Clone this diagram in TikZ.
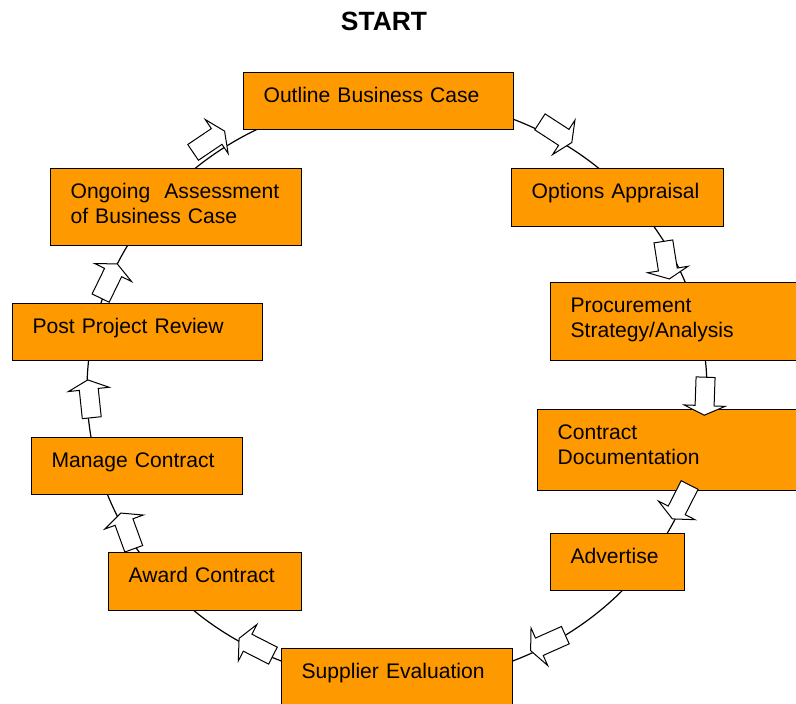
\documentclass[tikz,border=0pt]{standalone}
\usepackage{fontspec}
\setmainfont{Liberation Sans}
\usepackage{tikz}
\usetikzlibrary{shapes.arrows}
\definecolor{stageorange}{HTML}{FF9900}
\newcommand{\stagefont}{\fontsize{21.1}{24.5}\selectfont}

\begin{document}
\begin{tikzpicture}[x=1pt,y=-1pt,
  stage/.style={draw,line width=1.2pt,fill=stageorange,anchor=north west,align=left,
    inner xsep=20pt,inner ysep=0pt,text height=30pt,font=\stagefont},
  flow/.style={single arrow,draw,line width=1pt,fill=white,inner xsep=0pt,inner ysep=9pt,
    minimum height=38pt,single arrow head extend=11pt,single arrow tip angle=130}]
\useasboundingbox (0,0) rectangle (796,704);
\node[font=\fontsize{26.4}{30}\selectfont\bfseries] (start) at (384,21) {START};
% the cycle
\draw[line width=1.2pt] (397,390) ellipse [x radius=310, y radius=292];
% stages
\node[stage,text width=230pt,text depth=27pt] (obc) at (243,72) {Outline Business Case};
\node[stage,text width=172pt,text depth=28pt] (opt) at (511,168) {Options Appraisal};
\node[stage,text width=210pt,text depth=48pt] (psa) at (550,282) {Procurement\\Strategy/Analysis};
\node[stage,text width=223pt,text depth=51pt] (cdoc) at (537,409) {Contract\\Documentation};
\node[stage,text width=94pt,text depth=27pt] (adv) at (550,533) {Advertise};
\node[stage,text width=191pt,text depth=32pt] (sev) at (281,648) {Supplier~Evaluation};
\node[stage,text width=153pt,text depth=28pt] (awc) at (108,552) {Award~Contract};
\node[stage,text width=171pt,text depth=27pt] (mgc) at (31,437) {Manage~Contract};
\node[stage,text width=210pt,text depth=27pt] (ppr) at (12,303) {Post Project Review};
\node[stage,text width=211pt,text depth=47pt] (oabc) at (50,168) {Ongoing~~\mbox{Assessment}\\of Business Case};
% block arrows
\node[flow,rotate=34] (f1) at (207,143) {};
\node[flow,rotate=-33] (f2) at (554,131) {};
\node[flow,rotate=-81] (f3) at (666,258) {};
\node[flow,rotate=-92] (f4) at (705,394) {};
\node[flow,rotate=-117] (f5) at (682,500) {};
\node[flow,rotate=-156] (f6) at (550,642) {};
\node[flow,rotate=153] (f7) at (258,648) {};
\node[flow,rotate=110] (f8) at (128,533) {};
\node[flow,rotate=96] (f9) at (90,401) {};
\node[flow,rotate=64] (f10) at (108,283) {};
\end{tikzpicture}
\end{document}
